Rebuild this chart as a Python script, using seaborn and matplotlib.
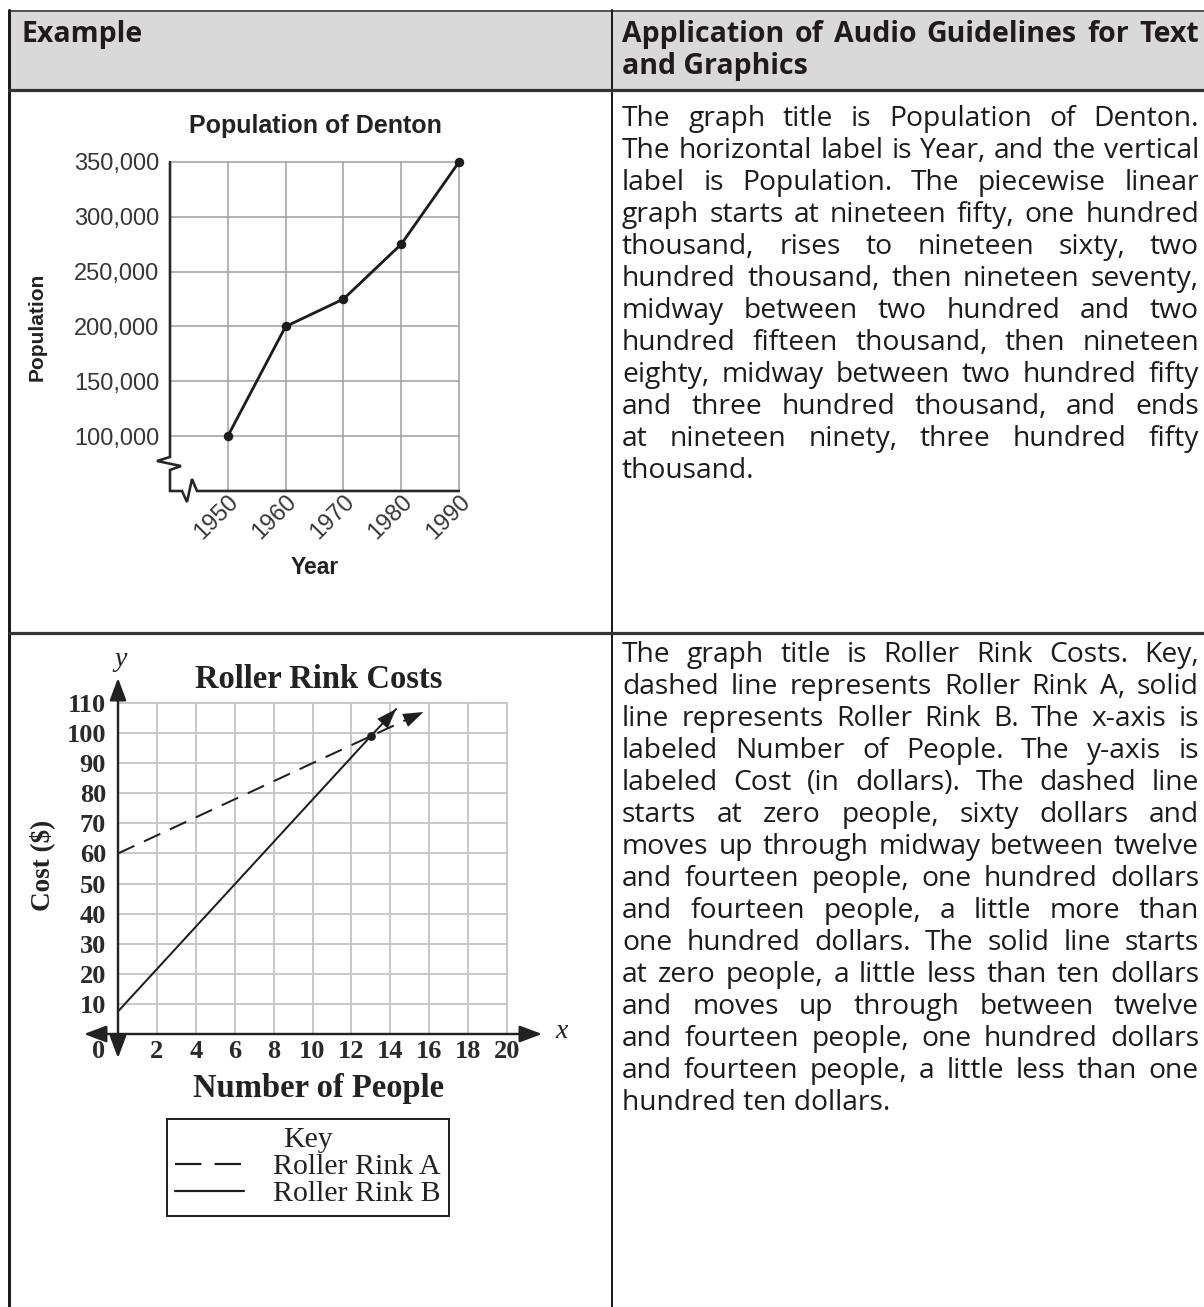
import numpy as np
import pandas as pd
import matplotlib
matplotlib.use("Agg")
import matplotlib.pyplot as plt
import matplotlib.transforms as mtrans
from matplotlib.lines import Line2D
from matplotlib.patches import Rectangle
import seaborn as sns

# ---------------- data ----------------
years = [1950, 1960, 1970, 1980, 1990]
population = [100000, 200000, 225000, 275000, 350000]
pop_ticks = [100000, 150000, 200000, 250000, 300000, 350000]
pop_tick_labels = ["100,000", "150,000", "200,000", "250,000", "300,000", "350,000"]
year_labels = ["1950", "1960", "1970", "1980", "1990"]

rink_names = ["Roller Rink A", "Roller Rink B"]
rink_a_people = [0, 13, 15.7]
rink_a_cost = [60, 99, 107]
rink_b_people = [0, 13, 14.3]
rink_b_cost = [7.5, 99, 108]
cross_people = [13]
cross_cost = [99]
people_ticks = [0, 2, 4, 6, 8, 10, 12, 14, 16, 18, 20]
cost_ticks = [10, 20, 30, 40, 50, 60, 70, 80, 90, 100, 110]

header_left = "Example"
header_right = ["Application of Audio Guidelines for Text", "and Graphics"]
para1 = [
    "The graph title is Population of Denton.",
    "The horizontal label is Year, and the vertical",
    "label is Population. The piecewise linear",
    "graph starts at nineteen fifty, one hundred",
    "thousand, rises to nineteen sixty, two",
    "hundred thousand, then nineteen seventy,",
    "midway between two hundred and two",
    "hundred fifteen thousand, then nineteen",
    "eighty, midway between two hundred fifty",
    "and three hundred thousand, and ends",
    "at nineteen ninety, three hundred fifty",
    "thousand.",
]
para2 = [
    "The graph title is Roller Rink Costs. Key,",
    "dashed line represents Roller Rink A, solid",
    "line represents Roller Rink B. The x-axis is",
    "labeled Number of People. The y-axis is",
    "labeled Cost (in dollars). The dashed line",
    "starts at zero people, sixty dollars and",
    "moves up through midway between twelve",
    "and fourteen people, one hundred dollars",
    "and fourteen people, a little more than",
    "one hundred dollars. The solid line starts",
    "at zero people, a little less than ten dollars",
    "and moves up through between twelve",
    "and fourteen people, one hundred dollars",
    "and fourteen people, a little less than one",
    "hundred ten dollars.",
]

# ---------------- setup ----------------
sns.set_theme(style="white")
plt.rcParams["font.family"] = ["Open Sans", "DejaVu Sans"]

W, H = 1204, 1307
P = 0.72  # px -> pt at dpi 100
fig = plt.figure(figsize=(W / 100, H / 100), dpi=100)
fig.patch.set_facecolor("white")


def px_rect(l, t, r, b):
    return [l / W, 1 - b / H, (r - l) / W, (b - t) / H]


ov = fig.add_axes([0, 0, 1, 1])
ov.set_xlim(0, W)
ov.set_ylim(H, 0)
ov.axis("off")

TXT = "#1f1b1c"
SANS = ["Liberation Sans", "DejaVu Sans"]
SERIF = ["Liberation Serif", "DejaVu Serif"]
BODY = ["Open Sans", "DejaVu Sans"]

# ---------------- table ----------------
ov.add_patch(Rectangle((9, 11), W - 9, 79, facecolor="#d9d9d9", edgecolor="none", zorder=0))
ov.plot([9, W], [11, 11], color="#555555", lw=2 * P)
ov.plot([9, 9], [10, H], color=TXT, lw=3 * P)
ov.plot([612, 612], [10, H], color=TXT, lw=2 * P)
ov.plot([9, W], [90, 90], color="#333333", lw=3.2 * P)
ov.plot([9, W], [633, 633], color="#333333", lw=3.2 * P)

renderer = fig.canvas.get_renderer()


def fit_size(lines, size, weight, avail):
    mx = 0
    for ln in lines:
        t = ov.text(0, 0, ln, fontsize=size, family=BODY, weight=weight)
        mx = max(mx, t.get_window_extent(renderer).width)
        t.remove()
    return size * min(1.0, avail / mx)


def justified(lines, y0, dy, size, weight="normal", x0=622, x1=1199, justify_last=False):
    for i, line in enumerate(lines):
        y = y0 + i * dy
        words = line.split(" ")
        last = i == len(lines) - 1
        kw = dict(fontsize=size, family=BODY, weight=weight, color=TXT, va="baseline", ha="left")
        if (last and not justify_last) or len(words) == 1:
            ov.text(x0, y, line, **kw)
            continue
        ts = [ov.text(x0, y, w, **kw) for w in words]
        ws = [t.get_window_extent(renderer).width for t in ts]
        gap = (x1 - x0 - sum(ws)) / (len(words) - 1)
        x = x0
        for t, w in zip(ts, ws):
            t.set_x(x)
            x += w + gap


body_size = fit_size(para1[:-1] + para2[:-1], 20.5, "normal", 574)
head_size = fit_size(header_right[:1], 20.5, "bold", 580)
ov.text(22, 42, header_left, fontsize=head_size, family=BODY, weight="bold", color=TXT, va="baseline")
justified(header_right, 42, 32, head_size, weight="bold", justify_last=False)
justified(para1, 126, 32, body_size)
justified(para2, 662, 32, body_size)

# ---------------- chart 1: Population of Denton ----------------
ax1 = fig.add_axes(px_rect(170, 162, 459, 491))
ax1.set_facecolor("none")
sns.lineplot(x=years, y=population, ax=ax1, color="#1c1c1c", linewidth=2.8 * P,
             marker="o", markersize=9.5 * P, markeredgewidth=0, clip_on=False, zorder=5)
ax1.set_xlim(1940, 1990)
ax1.set_ylim(50000, 350000)
ax1.set_xticks(years)
ax1.set_yticks(pop_ticks)
ax1.grid(True, color="#a3a3a3", lw=1.6 * P)
for gl in ax1.get_xgridlines() + ax1.get_ygridlines():
    gl.set_clip_on(False)
ax1.set_axisbelow(True)
for s in ax1.spines.values():
    s.set_visible(False)
ax1.tick_params(length=0)
ax1.tick_params(axis="y", pad=11 * P)
ax1.set_yticklabels(pop_tick_labels, family=SANS, fontsize=17, color="#363636")
ax1.set_xticklabels(year_labels, family=SANS, fontsize=17, color="#363636",
                    rotation=45, ha="right", va="top", rotation_mode="anchor")
off = mtrans.ScaledTranslation(11 / 100, -12 / 100, fig.dpi_scale_trans)
for lab in ax1.get_xticklabels():
    lab.set_transform(lab.get_transform() + off)
ax1.tick_params(axis="x", pad=0)
ax1.set_xlabel("")
ax1.set_ylabel("")

# axis lines with breaks (axes-fraction coordinates)
w1, h1 = 289.0, 329.0
zig = [(0, 0), (0, 295), (-13, 299), (11, 304), (0, 308), (0, 329),
       (12, 329), (17, 340), (22, 317), (27, 329), (289, 329)]
zx = [p[0] / w1 for p in zig]
zy = [1 - p[1] / h1 for p in zig]
ax1.plot(zx, zy, transform=ax1.transAxes, clip_on=False, color="#262626", lw=2.6 * P,
         solid_joinstyle="miter")

ov.text(315, 126, "Population of Denton", family=SANS, weight="bold", fontsize=18,
        color="#222222", ha="center", va="center")
ov.text(315, 567, "Year", family=SANS, weight="bold", fontsize=16.5, color="#222222",
        ha="center", va="center")
ov.text(37, 327, "Population", family=SANS, weight="bold", fontsize=15, color="#222222",
        ha="center", va="center", rotation=90)

# ---------------- chart 2: Roller Rink Costs ----------------
ax2 = fig.add_axes(px_rect(118, 703, 507, 1034))
ax2.set_facecolor("none")
df = pd.DataFrame({
    "people": rink_a_people + rink_b_people,
    "cost": rink_a_cost + rink_b_cost,
    "rink": [rink_names[0]] * len(rink_a_people) + [rink_names[1]] * len(rink_b_people),
})
sns.lineplot(data=df, x="people", y="cost", style="rink",
             dashes={rink_names[0]: (9, 5.3), rink_names[1]: ""},
             color="#1e1e1e", linewidth=2 * P, ax=ax2, legend=False,
             sort=False, estimator=None, zorder=5)
sns.scatterplot(x=cross_people, y=cross_cost, ax=ax2, color="#1e1e1e", s=40, linewidth=0, zorder=6)
for px_, cy_ in ((rink_a_people, rink_a_cost), (rink_b_people, rink_b_cost)):
    ax2.annotate("", xy=(px_[-1], cy_[-1]), xytext=(px_[-2], cy_[-2]),
                 arrowprops=dict(arrowstyle="-|>,head_length=0.85,head_width=0.3",
                                 color="#1e1e1e", lw=0, mutation_scale=17,
                                 shrinkA=0, shrinkB=0), zorder=6)
ax2.set_xlim(0, 20)
ax2.set_ylim(0, 110)
ax2.set_xticks(people_ticks)
ax2.set_yticks(cost_ticks)
ax2.grid(True, color="#c4c4c4", lw=1.8 * P)
for gl in ax2.get_xgridlines() + ax2.get_ygridlines():
    gl.set_clip_on(False)
ax2.set_axisbelow(True)
for s in ax2.spines.values():
    s.set_visible(False)
ax2.tick_params(length=0)
ax2.tick_params(axis="y", pad=12 * P)
ax2.tick_params(axis="x", pad=6 * P)
ax2.set_yticklabels([str(v) for v in cost_ticks], family=SERIF, fontsize=19,
                    weight="bold", color="#2a2a2a")
ax2.set_xticklabels([str(v) for v in people_ticks], family=SERIF, fontsize=19,
                    weight="bold", color="#2a2a2a")
zero_lab = ax2.get_xticklabels()[0]
zero_lab.set_transform(zero_lab.get_transform() +
                       mtrans.ScaledTranslation(-19 / 100, 0, fig.dpi_scale_trans))
ax2.set_xlabel("")
ax2.set_ylabel("")

# axis arrows
ax2.annotate("", xy=(21.8, 0), xytext=(-1.75, 0), annotation_clip=False,
             arrowprops=dict(arrowstyle="<|-|>,head_length=0.8,head_width=0.3",
                             color="#222222", lw=2.4 * P, mutation_scale=17,
                             shrinkA=0, shrinkB=0, clip_on=False), zorder=7)
ax2.annotate("", xy=(0, 118.3), xytext=(0, -8), annotation_clip=False,
             arrowprops=dict(arrowstyle="<|-|>,head_length=0.8,head_width=0.3",
                             color="#222222", lw=2.4 * P, mutation_scale=17,
                             shrinkA=0, shrinkB=0, clip_on=False), zorder=7)

ov.text(319, 679, "Roller Rink Costs", family=SERIF, weight="bold", fontsize=23.5,
        color="#222222", ha="center", va="center")
ov.text(319, 1088, "Number of People", family=SERIF, weight="bold", fontsize=23.5,
        color="#222222", ha="center", va="center")
ov.text(42, 865, "Cost ($)", family=SERIF, weight="bold", fontsize=19.5,
        color="#222222", ha="center", va="center", rotation=90)
ov.text(121, 660, "y", family=SERIF, style="italic", fontsize=20, color="#222222",
        ha="center", va="center")
ov.text(562, 1032, "x", family=SERIF, style="italic", fontsize=20, color="#222222",
        ha="center", va="center")

handles = [Line2D([], [], color="#1e1e1e", lw=2.2 * P, dashes=(12, 6)),
           Line2D([], [], color="#1e1e1e", lw=2.2 * P)]
leg = ax2.legend(handles, rink_names, title="Key", loc="upper center",
                 bbox_to_anchor=(308 / W, 1 - 1119 / H), bbox_transform=fig.transFigure,
                 frameon=True, fancybox=False, edgecolor="#222222", framealpha=1,
                 borderpad=0.28, handlelength=2.3, handletextpad=1.0, labelspacing=0.0,
                 borderaxespad=0, prop={"family": SERIF, "size": 21.5},
                 title_fontproperties={"family": SERIF, "size": 21.5})
leg.get_frame().set_linewidth(2 * P)
for t in leg.get_texts():
    t.set_color("#222222")
leg.get_title().set_color("#222222")

fig.savefig("out.png", dpi=100, facecolor="white")
